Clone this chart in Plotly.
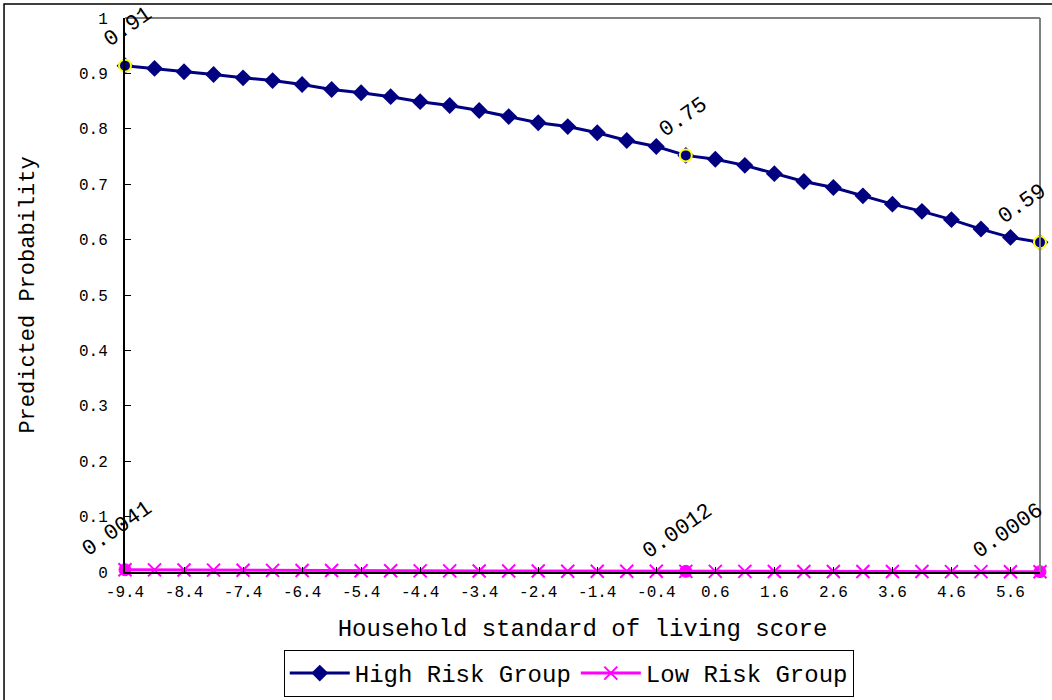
import plotly.graph_objects as go

# Category labels (household standard of living score), step 0.5
x_labels = ["-9.4", "-8.9", "-8.4", "-7.9", "-7.4", "-6.9", "-6.4", "-5.9", "-5.4", "-4.9",
            "-4.4", "-3.9", "-3.4", "-2.9", "-2.4", "-1.9", "-1.4", "-0.9", "-0.4", "0.1",
            "0.6", "1.1", "1.6", "2.1", "2.6", "3.1", "3.6", "4.1", "4.6", "5.1", "5.6", "6.1"]

high_risk = [0.914, 0.909, 0.903, 0.898, 0.892, 0.887, 0.880, 0.871, 0.865, 0.858,
             0.849, 0.842, 0.833, 0.822, 0.811, 0.804, 0.793, 0.779, 0.768, 0.752,
             0.745, 0.734, 0.719, 0.705, 0.694, 0.679, 0.664, 0.651, 0.636, 0.619,
             0.604, 0.595]

low_risk = [0.0041, 0.0038, 0.0036, 0.0034, 0.0032, 0.0030, 0.0028, 0.0026, 0.0024, 0.0023,
            0.0021, 0.0020, 0.0019, 0.0018, 0.0017, 0.0015, 0.0014, 0.0014, 0.0013, 0.0012,
            0.0011, 0.0011, 0.0010, 0.0010, 0.0009, 0.0008, 0.0008, 0.0008, 0.0007, 0.0007,
            0.0006, 0.0006]

# Indices of labelled points and their label texts
label_idx = [0, 19, 31]
high_labels = ["0.91", "0.75", "0.59"]
low_labels = ["0.0041", "0.0012", "0.0006"]

y_ticks = [0, 0.1, 0.2, 0.3, 0.4, 0.5, 0.6, 0.7, 0.8, 0.9, 1]
y_ticktext = ["0", "0.1", "0.2", "0.3", "0.4", "0.5", "0.6", "0.7", "0.8", "0.9", "1"]

FONT = "Liberation Mono"
NAVY = "#000080"
MAGENTA = "#FF00FF"

idx = list(range(len(x_labels)))

fig = go.Figure()
fig.add_trace(go.Scatter(
    x=idx, y=high_risk, mode="lines+markers", name="High Risk Group",
    line=dict(color=NAVY, width=3),
    marker=dict(symbol="diamond", size=13, color=NAVY),
    cliponaxis=False))
fig.add_trace(go.Scatter(
    x=idx, y=low_risk, mode="lines+markers", name="Low Risk Group",
    line=dict(color=MAGENTA, width=3),
    marker=dict(symbol="x-thin", size=13, color=MAGENTA, line=dict(color=MAGENTA, width=2)),
    cliponaxis=False))
# highlighted labelled points
fig.add_trace(go.Scatter(
    x=label_idx, y=[high_risk[i] for i in label_idx], mode="markers", showlegend=False,
    marker=dict(symbol="circle", size=12, color=NAVY, line=dict(color="#FFFF00", width=2)),
    cliponaxis=False, hoverinfo="skip"))
fig.add_trace(go.Scatter(
    x=label_idx, y=[low_risk[i] for i in label_idx], mode="markers", showlegend=False,
    marker=dict(symbol="circle", size=12, color=MAGENTA, line=dict(color=MAGENTA, width=1)),
    cliponaxis=False, hoverinfo="skip"))

high_xshift = [3, -2, -18]
low_xshift = [-8, -8, -32]
annotations = []
for k, i in enumerate(label_idx):
    annotations.append(dict(x=i, y=high_risk[i], xref="x", yref="y", text=high_labels[k],
                            showarrow=False, textangle=-35, yshift=38, xshift=high_xshift[k],
                            font=dict(family=FONT, size=22, color="black")))
    annotations.append(dict(x=i, y=low_risk[i], xref="x", yref="y", text=low_labels[k],
                            showarrow=False, textangle=-35, yshift=40, xshift=low_xshift[k],
                            font=dict(family=FONT, size=22, color="black")))

shapes = [
    # plot-area top and right borders (gray)
    dict(type="line", xref="paper", yref="paper", x0=0, x1=1, y0=1, y1=1,
         line=dict(color="#808080", width=2)),
    dict(type="line", xref="paper", yref="paper", x0=1, x1=1, y0=0, y1=1,
         line=dict(color="#808080", width=2)),
    # outer chart frame
    dict(type="rect", xref="paper", yref="paper", x0=-0.1322, x1=1.05, y0=-0.3, y1=1.0253,
         line=dict(color="black", width=1.5)),
]

fig.update_layout(
    width=1052, height=700,
    margin=dict(l=125, r=12, t=18, b=128, autoexpand=False),
    paper_bgcolor="white", plot_bgcolor="white",
    font=dict(family=FONT, color="black"),
    showlegend=True,
    legend=dict(orientation="h", x=0.485, xanchor="center", y=-0.2256, yanchor="bottom",
                bordercolor="black", borderwidth=1, font=dict(family=FONT, size=24),
                itemwidth=60, tracegroupgap=0),
    annotations=annotations,
    shapes=shapes,
    xaxis=dict(range=[0, len(x_labels) - 1], tickmode="array",
               tickvals=idx[::2], ticktext=x_labels[::2],
               showgrid=False, zeroline=False, showline=True, linecolor="black", linewidth=2,
               ticks="inside", ticklen=5, tickcolor="black", automargin=False,
               tickfont=dict(family=FONT, size=16), ticklabelstandoff=4,
               title=dict(text="Household standard of living score",
                          font=dict(family=FONT, size=24), standoff=18)),
    yaxis=dict(range=[0, 1], tickmode="array", tickvals=y_ticks, ticktext=y_ticktext,
               showgrid=False, zeroline=False, showline=True, linecolor="black", linewidth=2,
               ticks="inside", ticklen=6, tickcolor="black", automargin=False,
               tickfont=dict(family=FONT, size=16), ticklabelstandoff=12,
               title=dict(text="Predicted Probability",
                          font=dict(family=FONT, size=22), standoff=38)),
)

fig.write_html("out.html", config={"displayModeBar": False},
               post_script="document.body.style.margin='0';")
